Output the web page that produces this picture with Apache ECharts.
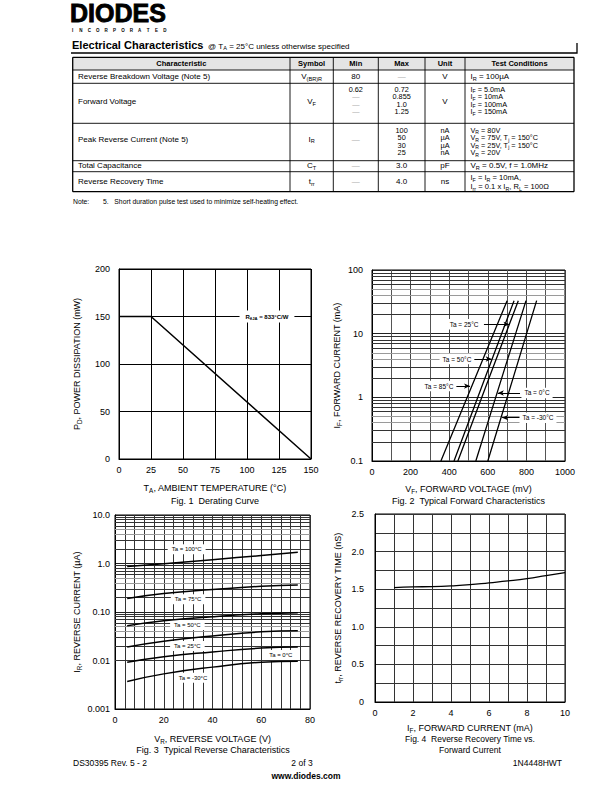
<!DOCTYPE html>
<html><head><meta charset="utf-8">
<script src="https://cdn.jsdelivr.net/npm/echarts/dist/echarts.min.js"></script>
<style>html,body{margin:0;padding:0;background:#fff}#c{width:612px;height:792px}</style>
</head><body><div id="c"></div>
<script>
const FONT = '"Liberation Sans", Arial, Helvetica, sans-serif';

// ---------------- Table data ----------------
const tableHeaders = ['Characteristic', 'Symbol', 'Min', 'Max', 'Unit', 'Test Conditions'];
const rowCharacteristic = ['Reverse Breakdown Voltage (Note 5)', 'Forward Voltage', 'Peak Reverse Current (Note 5)', 'Total Capacitance', 'Reverse Recovery Time'];
const rowSymbol = ['V_{(BR)R}', 'V_{F}', 'I_{R}', 'C_{T}', 't_{rr}'];
const rowMin = [['80'], ['0.62', '—', '—', '—'], ['—'], ['—'], ['—']];
const rowMax = [['—'], ['0.72', '0.855', '1.0', '1.25'], ['100', '50', '30', '25'], ['3.0'], ['4.0']];
const rowUnit = [['V'], ['V'], ['nA', 'µA', 'µA', 'nA'], ['pF'], ['ns']];
const rowTest = [
  ['I_{R} = 100µA'],
  ['I_{F} = 5.0mA', 'I_{F} = 10mA', 'I_{F} = 100mA', 'I_{F} = 150mA'],
  ['V_{R} = 80V', 'V_{R} = 75V, T_{j} = 150°C', 'V_{R} = 25V, T_{j} = 150°C', 'V_{R} = 20V'],
  ['V_{R} = 0.5V, f = 1.0MHz'],
  ['I_{F} = I_{R} = 10mA,', 'I_{rr} = 0.1 x I_{R}, R_{L} = 100Ω']
];

// ---------------- Fig 1: derating curve ----------------
const fig1Temperature = [0, 25, 150];
const fig1Power = [150, 150, 0];

// ---------------- Fig 2: forward characteristics (VF mV, IF mA) ----------------
const fig2Current = [0.1, 2, 33];
const fig2V_85 = [357, 534, 700];
const fig2V_50 = [425, 585, 736];
const fig2V_25 = [445, 606, 758];
const fig2V_0 = [538, 672, 798];
const fig2V_m30 = [600, 731, 853];

// ---------------- Fig 3: reverse characteristics (VR V, IR uA) ----------------
const fig3Voltage = [5, 20, 40, 60, 75];
const fig3I_100 = [0.87, 0.99, 1.2, 1.46, 1.7];
const fig3I_75 = [0.19, 0.24, 0.29, 0.34, 0.36];
const fig3I_50 = [0.052, 0.066, 0.08, 0.092, 0.097];
const fig3I_25 = [0.019, 0.025, 0.032, 0.039, 0.041];
const fig3I_0 = [0.0092, 0.012, 0.015, 0.018, 0.019];
const fig3I_m30 = [0.0037, 0.0053, 0.0073, 0.0092, 0.0097];

// ---------------- Fig 4: reverse recovery time ----------------
const fig4Current = [1, 2, 3, 4, 5, 6, 7, 8, 9, 10];
const fig4Trr = [1.52, 1.53, 1.535, 1.545, 1.56, 1.585, 1.61, 1.64, 1.68, 1.72];

// tick label text
const fig2YTickText = {'-1': '0.1', '0': '1', '1': '10', '2': '100'};
const fig3YTickText = {'-3': '0.001', '-2': '0.01', '-1': '0.10', '0': '1.0', '1': '10.0'};

// annotations (data coordinates)
const fig1Note = {text: 'R_{θJA} = 833°C/W', x: 115.6, y: 150};
const fig2Labels = [
  {text: 'Ta = 25°C', x: 477, y: 14, from: 580, to: 712},
  {text: 'Ta = 50°C', x: 440, y: 4, from: 508, to: 620},
  {text: 'Ta = 85°C', x: 347, y: 1.5, from: 430, to: 508},
  {text: 'Ta = 0°C', x: 855, y: 1.17, from: 767, to: 652},
  {text: 'Ta = -30°C', x: 860, y: 0.48, from: 767, to: 674}
];
const fig3Labels = [
  {text: 'Ta = 100°C', x: 29.4, y: 1.96},
  {text: 'Ta = 75°C', x: 30, y: 0.183},
  {text: 'Ta = 50°C', x: 29.7, y: 0.054},
  {text: 'Ta = 25°C', x: 29.7, y: 0.02},
  {text: 'Ta = 0°C', x: 68, y: 0.013},
  {text: 'Ta = -30°C', x: 32, y: 0.0044}
];

// ---------------- helpers ----------------
function mk(s) { return '{n|' + s.replace(/_\{([^}]*)\}/g, '}{s|$1}{n|') + '}'; }
function richSet(fs, weight) {
  const w = weight || 'normal';
  return {
    n: {fontSize: fs, fontFamily: FONT, fontWeight: w, color: '#000', lineHeight: fs + 2},
    s: {fontSize: Math.round(fs * 0.7 * 10) / 10, fontFamily: FONT, fontWeight: w, color: '#000', verticalAlign: 'bottom', lineHeight: Math.round(fs * 0.72)}
  };
}
function zip(xs, ys) { return xs.map((x, i) => [x, ys[i]]); }
function zipYX(ys, xs) { return xs.map((x, i) => [x, ys[i]]); }

const elements = [];
function txt(x, y, s, o) {
  o = o || {};
  const fs = o.fs || 8;
  elements.push({
    type: 'text', x: x, y: y, silent: true, z: 100,
    style: {
      text: mk(s), rich: richSet(fs, o.weight),
      fill: o.color || '#000', fontSize: fs, fontFamily: FONT,
      align: o.align || 'left', textAlign: o.align || 'left',
      verticalAlign: 'middle', textVerticalAlign: 'middle'
    }
  });
}
function plain(x, y, s, o) {
  o = o || {};
  const st = {
    text: s, fill: o.color || '#000', fontSize: o.fs || 8, fontFamily: FONT,
    fontWeight: o.weight || 'normal', fontStyle: o.style || 'normal',
    align: o.align || 'left', textAlign: o.align || 'left',
    verticalAlign: 'middle', textVerticalAlign: 'middle'
  };
  if (o.lh) st.lineHeight = o.lh;
  if (o.stroke) { st.stroke = o.stroke; st.lineWidth = o.sw || 0.6; }
  elements.push({type: 'text', x: x, y: y, silent: true, z: 100, style: st});
}
function ln(x1, y1, x2, y2, w, c) {
  elements.push({type: 'line', silent: true, z: 90, shape: {x1, y1, x2, y2}, style: {stroke: c || '#000', lineWidth: w || 1}});
}

// ---------------- header ----------------
plain(70, 13.3, 'DIODES', {fs: 25, weight: 'bold', stroke: '#000', sw: 0.9});
'INCORPORATED'.split('').forEach((ch, i) => plain(72.5 + i * 8.4, 30.6, ch, {fs: 4.5, weight: 'bold', align: 'center'}));
plain(72, 45, 'Electrical Characteristics', {fs: 11, weight: 'bold'});
txt(208, 46, '@ T_{A} = 25°C unless otherwise specified', {fs: 8});
elements.push({type: 'polyline', silent: true, z: 90, shape: {points: [[71, 53], [577, 53], [577, 43]]}, style: {stroke: '#000', lineWidth: 1.3, fill: null}});

// ---------------- table ----------------
const colX = [72.7, 290, 333.3, 378.3, 425, 465, 574];
const rowY = [57.3, 70, 83.3, 123.3, 160.7, 171.7, 191.7];
const rowMid = [76.7, 101.7, 139.3, 165.9, 181.7];
const rowLines = [[76.7], [89.3, 96.8, 104.3, 111.8], [130, 137.5, 145, 152.5], [165.9], [177.3, 186.2]];
const rowLineFont = [8, 6.7, 6.7, 8, 7.6];
elements.push({type: 'rect', silent: true, z: 80, shape: {x: colX[0], y: rowY[0], width: colX[6] - colX[0], height: rowY[1] - rowY[0]}, style: {fill: '#e4e4e4'}});
colX.forEach((x, i) => ln(x, rowY[0], x, rowY[6], (i === 0 || i === 6) ? 1.3 : 0.9));
rowY.forEach((y, i) => ln(colX[0], y, colX[6], y, (i === 0 || i === 6) ? 1.3 : 0.9));
tableHeaders.forEach((h, i) => plain((colX[i] + colX[i + 1]) / 2, 63.8, h, {fs: 7.5, weight: 'bold', align: 'center'}));
function cellLines(arr, r) { return arr.length === 1 ? [rowMid[r]] : rowLines[r]; }
function cellFont(arr, r) { return arr.length === 1 ? 8 : rowLineFont[r]; }
for (let r = 0; r < 5; r++) {
  plain(78, rowMid[r], rowCharacteristic[r], {fs: 8});
  txt((colX[1] + colX[2]) / 2, rowMid[r], rowSymbol[r], {fs: 8, align: 'center'});
  const cols = [[rowMin[r], (colX[2] + colX[3]) / 2], [rowMax[r], (colX[3] + colX[4]) / 2], [rowUnit[r], (colX[4] + colX[5]) / 2]];
  cols.forEach(([arr, cx]) => {
    const ys = cellLines(arr, r), f = cellFont(arr, r);
    arr.forEach((v, i) => plain(cx, ys[i], v, {fs: f + (arr.length > 1 ? 0.6 : 0), align: 'center', color: v === '—' ? '#aaa' : '#000'}));
  });
  const ts = rowTest[r], ys4 = cellLines(ts, r), f4 = cellFont(ts, r);
  ts.forEach((v, i) => txt(470.5, ys4[i], v, {fs: f4 + (ts.length > 1 && r !== 4 ? 0.6 : 0)}));
}
plain(73, 201.5, 'Note:', {fs: 6.8});
plain(103, 201.5, '5.   Short duration pulse test used to minimize self-heating effect.', {fs: 6.8});

// ---------------- captions & footer ----------------
plain(215, 500.5, 'Fig. 1  Derating Curve', {fs: 9, align: 'center'});
plain(468.5, 500.5, 'Fig. 2  Typical Forward Characteristics', {fs: 9, align: 'center'});
plain(213, 749.5, 'Fig. 3  Typical Reverse Characteristics', {fs: 9, align: 'center'});
plain(470, 738.8, 'Fig. 4  Reverse Recovery Time vs.', {fs: 8.5, align: 'center'});
plain(470, 749.5, 'Forward Current', {fs: 8.5, align: 'center'});
plain(73, 762.5, 'DS30395 Rev. 5 - 2', {fs: 8.5});
plain(302, 762.5, '2 of 3', {fs: 8.5, align: 'center'});
plain(562, 762.5, '1N4448HWT', {fs: 8.5, align: 'right'});
plain(306, 775.5, 'www.diodes.com', {fs: 8.5, weight: 'bold', align: 'center'});

// ---------------- axes ----------------
const nameStyle = {fontSize: 9, fontFamily: FONT, color: '#000', rich: richSet(9)};
function axisBase(gi, o) {
  return Object.assign({
    gridIndex: gi, type: 'value',
    axisLine: {show: true, lineStyle: {color: '#000', width: 1}},
    axisTick: {show: false},
    axisLabel: {color: '#000', fontSize: 9, fontFamily: FONT, margin: 6.5, formatter: v => String(v)},
    splitLine: {show: true, lineStyle: {color: '#000', width: 1}},
    nameLocation: 'middle', nameTextStyle: nameStyle
  }, o);
}
const grids = [
  {left: 119, top: 269, width: 192, height: 190},
  {left: 372, top: 270, width: 193, height: 191},
  {left: 115, top: 515, width: 195, height: 194},
  {left: 375, top: 514, width: 190, height: 188}
].map(g => Object.assign({show: true, borderColor: '#000', borderWidth: 1, backgroundColor: 'transparent', containLabel: false}, g));

const minorStyle = c => ({show: true, lineStyle: {color: c, width: 1}});
const xAxes = [
  axisBase(0, {min: 0, max: 150, interval: 25, name: mk('T_{A}, AMBIENT TEMPERATURE (°C)'), nameGap: 23.5}),
  axisBase(1, {min: 0, max: 1000, interval: 200, minorTick: {show: false, splitNumber: 2}, minorSplitLine: minorStyle('#555'), splitLine: {show: true, lineStyle: {color: '#444', width: 1}}, name: mk('V_{F}, FORWARD VOLTAGE (mV)'), nameGap: 22.5}),
  axisBase(2, {min: 0, max: 80, interval: 20, minorTick: {show: false, splitNumber: 5}, minorSplitLine: minorStyle('#333'), splitLine: {show: true, lineStyle: {color: '#333', width: 1}}, name: mk('V_{R}, REVERSE VOLTAGE (V)'), nameGap: 24}),
  axisBase(3, {min: 0, max: 10, interval: 2, minorTick: {show: false, splitNumber: 2}, minorSplitLine: minorStyle('#333'), splitLine: {show: true, lineStyle: {color: '#333', width: 1}}, name: mk('I_{F}, FORWARD CURRENT (mA)'), nameGap: 20})
];
const yAxes = [
  axisBase(0, {min: 0, max: 200, interval: 50, axisLabel: {color: '#000', fontSize: 9, fontFamily: FONT, margin: 9}, name: mk('P_{D}, POWER DISSIPATION (mW)'), nameGap: 37}),
  axisBase(1, {type: 'log', logBase: 10, min: 0.1, max: 100, splitLine: {show: true, lineStyle: {color: '#222', width: 1}},
    axisLabel: {color: '#000', fontSize: 9, fontFamily: FONT, margin: 9, formatter: v => fig2YTickText[Math.round(Math.log10(v))] || ''},
    name: mk('I_{F}, FORWARD CURRENT (mA)'), nameGap: 30}),
  axisBase(2, {type: 'log', logBase: 10, min: 0.001, max: 10, splitLine: {show: true, lineStyle: {color: '#222', width: 1}},
    axisLabel: {color: '#000', fontSize: 9, fontFamily: FONT, margin: 5, formatter: v => fig3YTickText[Math.round(Math.log10(v))] || ''},
    name: mk('I_{R}, REVERSE CURRENT (µA)'), nameGap: 33}),
  axisBase(3, {min: 0, max: 2.5, interval: 0.5, minorTick: {show: false, splitNumber: 2}, minorSplitLine: minorStyle('#333'), splitLine: {show: true, lineStyle: {color: '#333', width: 1}},
    axisLabel: {color: '#000', fontSize: 9, fontFamily: FONT, margin: 11, formatter: v => v === 0 ? '0' : v.toFixed(1)},
    name: mk('t_{rr}, REVERSE RECOVERY TIME (nS)'), nameGap: 32})
];

// log-axis minor grid lines (2..9 x 10^k)
function logMinor(kFrom, kTo) {
  const out = [];
  for (let k = kFrom; k < kTo; k++) for (let m = 2; m <= 9; m++) out.push({v: +(m * Math.pow(10, k)).toPrecision(3), m: m});
  return out;
}
function gridLineSeries(xi, yi, lines) {
  return {
    type: 'line', xAxisIndex: xi, yAxisIndex: yi, data: [], silent: true, z: 1,
    markLine: {silent: true, symbol: ['none', 'none'], label: {show: false}, animation: false,
      data: lines.map(o => ({yAxis: o.v, lineStyle: {color: (o.m === 4 || o.m === 5) ? '#9a9a9a' : '#333', width: 1, type: 'solid'}}))}
  };
}
function curve(xi, yi, data, w, smooth) {
  return {type: 'line', xAxisIndex: xi, yAxisIndex: yi, data: data, symbol: 'none', showSymbol: false, smooth: !!smooth, z: 5,
    lineStyle: {color: '#000', width: w}};
}
function labelSeries(xi, yi, labels, fs, weight, pad) {
  const s = {
    type: 'line', xAxisIndex: xi, yAxisIndex: yi, data: [], z: 10, silent: true,
    markPoint: {symbol: 'rect', symbolSize: 1, itemStyle: {color: 'rgba(0,0,0,0)'}, animation: false,
      label: {show: true, position: 'inside', color: '#000', fontSize: fs, fontFamily: FONT, fontWeight: weight || 'normal', backgroundColor: '#fff', padding: pad, rich: richSet(fs, weight)},
      data: labels.map(l => ({coord: [l.x, l.y], value: 0, label: {formatter: mk(l.text)}}))}
  };
  const arrows = labels.filter(l => l.from !== undefined);
  if (arrows.length) {
    s.markLine = {silent: true, symbol: ['none', 'arrow'], symbolSize: [4, 6], label: {show: false}, animation: false,
      lineStyle: {color: '#000', width: 1, type: 'solid'},
      data: arrows.map(l => [{coord: [l.from, l.y]}, {coord: [l.to, l.y]}])};
  }
  return s;
}

const series = [
  curve(0, 0, zip(fig1Temperature, fig1Power), 1.5),
  labelSeries(0, 0, [fig1Note], 6, 'bold', [2, 6]),

  gridLineSeries(1, 1, logMinor(-1, 2)),
  curve(1, 1, zipYX(fig2Current, fig2V_85), 1.3),
  curve(1, 1, zipYX(fig2Current, fig2V_50), 1.3),
  curve(1, 1, zipYX(fig2Current, fig2V_25), 1.3),
  curve(1, 1, zipYX(fig2Current, fig2V_0), 1.3),
  curve(1, 1, zipYX(fig2Current, fig2V_m30), 1.3),
  labelSeries(1, 1, fig2Labels, 6.5, 'normal', [1, 3]),

  gridLineSeries(2, 2, logMinor(-3, 1)),
  curve(2, 2, zip(fig3Voltage, fig3I_100), 1.5, true),
  curve(2, 2, zip(fig3Voltage, fig3I_75), 1.5, true),
  curve(2, 2, zip(fig3Voltage, fig3I_50), 1.5, true),
  curve(2, 2, zip(fig3Voltage, fig3I_25), 1.5, true),
  curve(2, 2, zip(fig3Voltage, fig3I_0), 1.5, true),
  curve(2, 2, zip(fig3Voltage, fig3I_m30), 1.5, true),
  labelSeries(2, 2, fig3Labels, 6, 'normal', [1, 4]),

  curve(3, 3, zip(fig4Current, fig4Trr), 1.3, true)
];

const chart = echarts.init(document.getElementById('c'), null, {renderer: 'svg', width: 612, height: 792});
chart.setOption({
  animation: false,
  backgroundColor: '#fff',
  textStyle: {fontFamily: FONT},
  grid: grids,
  xAxis: xAxes,
  yAxis: yAxes,
  series: series,
  graphic: {elements: elements}
});
</script>
</body></html>
